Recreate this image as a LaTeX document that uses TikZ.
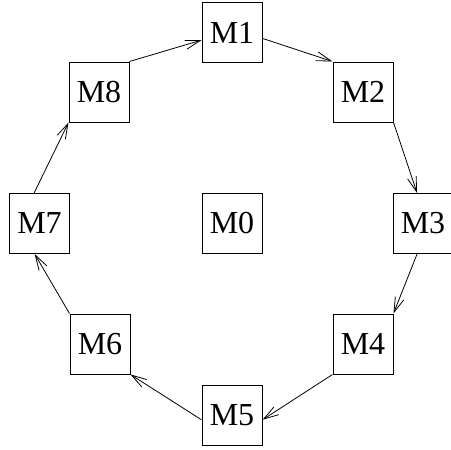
\documentclass[tikz,border=0pt]{standalone}
\usepackage{fontspec}
\setmainfont{Liberation Serif}
\usetikzlibrary{arrows.meta}

\begin{document}
\begin{tikzpicture}[
  x=1pt,y=-1pt,
  font=\fontsize{32}{38}\selectfont,
  box/.style={draw=black,line width=1pt,minimum width=60pt,minimum height=60pt,inner sep=0pt},
  link/.style={-{Straight Barb[length=15pt,width=9pt]},line width=0.8pt,draw=black}
]
\useasboundingbox (0,0) rectangle (451,450);
\node[box] (m0) at (232,223.5) {M0};
\node[box] (m1) at (232,32.5) {M1};
\node[box] (m2) at (363,92) {M2};
\node[box] (m3) at (423,223.5) {M3};
\node[box] (m4) at (363,344) {M4};
\node[box] (m5) at (232,415.5) {M5};
\node[box] (m6) at (100,344) {M6};
\node[box] (m7) at (39.5,223.5) {M7};
\node[box] (m8) at (99,92) {M8};
\draw[link] (m1.-11) -- (m2.north west);
\draw[link] (m2.south east) -- (m3.101);
\draw[link] (m3.259) -- (m4.north east);
\draw[link] (m4.south west) -- (m5.-8);
\draw[link] (m5.188) -- (m6.south east);
\draw[link] (m6.north west) -- (m7.261);
\draw[link] (m7.100) -- (m8.south west);
\draw[link] (m8.north east) -- (m1.194);
\end{tikzpicture}
\end{document}
